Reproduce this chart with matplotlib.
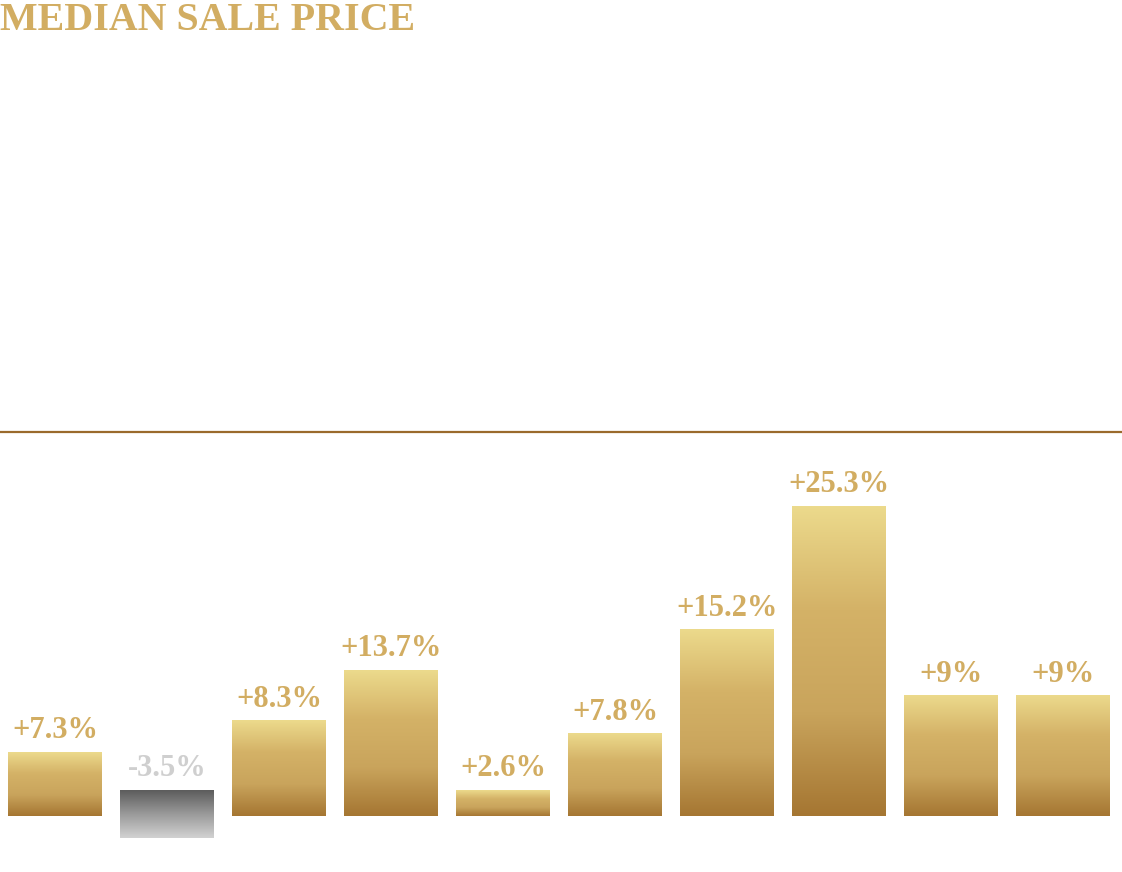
import numpy as np
import matplotlib.pyplot as plt
from matplotlib.colors import LinearSegmentedColormap

labels = ["+7.3%", "-3.5%", "+8.3%", "+13.7%", "+2.6%", "+7.8%", "+15.2%", "+25.3%", "+9%", "+9%"]
bar_top = [5.2, 2.1, 7.8, 11.9, 2.1, 6.7, 15.2, 25.3, 9.8, 9.8]
bar_bottom = [0, -1.8, 0, 0, 0, 0, 0, 0, 0, 0]
negative = [False, True, False, False, False, False, False, False, False, False]

gold = "#d2ad62"
gold_cmap = LinearSegmentedColormap.from_list("gold", ["#a57632", "#c9a45c", "#d4b267", "#ecda8c"])
gray_cmap = LinearSegmentedColormap.from_list("gray", ["#d2d2d2", "#9a9a9a", "#5c5c5c"])

fig = plt.figure(figsize=(11.22, 8.72), dpi=100)
fig.patch.set_facecolor("white")

fig.text(0.0, 0.9655, "MEDIAN SALE PRICE", family="Liberation Serif", fontweight="bold",
         fontsize=28.8, color=gold, ha="left", va="baseline")

ax = fig.add_axes([0, 0, 1, 440 / 872])
w = 0.835
grad = np.linspace(0, 1, 256).reshape(-1, 1)
for i, lab in enumerate(labels):
    cmap = gray_cmap if negative[i] else gold_cmap
    ax.imshow(grad, cmap=cmap, origin="lower", aspect="auto", interpolation="bilinear",
              extent=[i - w / 2, i + w / 2, bar_bottom[i], bar_top[i]], zorder=2)
    ax.annotate(lab, (i, bar_top[i]), xytext=(0, 10), textcoords="offset points",
                ha="center", va="baseline", family="Liberation Serif", fontweight="bold",
                fontsize=22, color="#cfcfcf" if negative[i] else gold)

ax.set_xlim(-55 / 112, (1122 - 55) / 112)
ax.set_ylim(-56 / 12.25, 384 / 12.25)
for s in ["left", "right", "bottom"]:
    ax.spines[s].set_visible(False)
ax.spines["top"].set_color("#9a6a2c")
ax.spines["top"].set_linewidth(1.6)
ax.set_xticks([])
ax.set_yticks([])

fig.savefig("out.png", dpi=100, facecolor="white")
